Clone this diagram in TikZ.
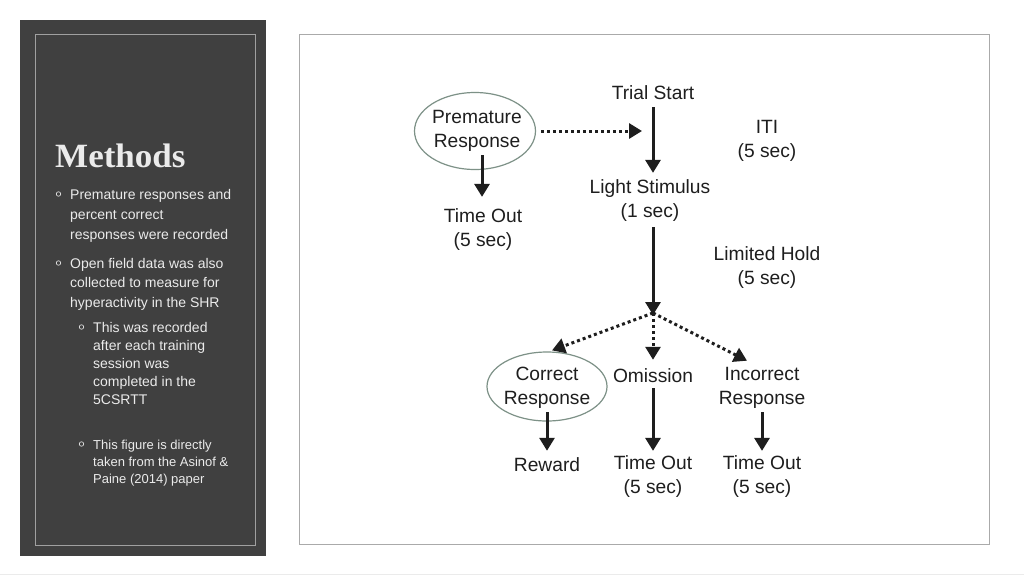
\documentclass[tikz,border=0pt]{standalone}
\usepackage{fontspec}
\newfontfamily\arial{Liberation Sans}
\newfontfamily\methfont{Liberation Serif}
\usetikzlibrary{arrows.meta,shapes.geometric,calc}
\definecolor{panel}{RGB}{64,64,64}
\definecolor{panelframe}{RGB}{160,160,160}
\definecolor{paneltext}{RGB}{235,235,235}
\definecolor{ovalc}{RGB}{125,145,135}
\definecolor{figframe}{RGB}{170,170,170}
\definecolor{ink}{RGB}{30,30,30}
\begin{document}
\begin{tikzpicture}[x=1pt,y=-1pt,
  txt/.style={font=\arial\fontsize{19.2}{24}\selectfont, text=ink, align=center, inner sep=0pt},
  arr/.style={line width=3pt, draw=ink, -{Triangle[length=13pt,width=15pt]}},
  dotarr/.style={arr, dash pattern=on 3pt off 3pt},
  oval/.style={ellipse, draw=ovalc, line width=1.2pt, inner sep=0pt},
  lt/.style={font=\arial\fontsize{14}{20}\selectfont, text=paneltext, anchor=base west, align=left, inner sep=0pt},
  lts/.style={lt, font=\arial\fontsize{14}{18}\selectfont},
  ltt/.style={lt, font=\arial\fontsize{13}{17}\selectfont},
  bul/.style={circle, draw=paneltext, line width=0.6pt, minimum size=4.5pt, inner sep=0pt}
]
\useasboundingbox (0,0) rectangle (1024,576);
\fill[white] (0,0) rectangle (1024,576);
\draw[black!8, line width=1.5pt] (0,574.5) -- (1024,574.5);
% left panel
\fill[panel] (20,20) rectangle (266,556);
\draw[panelframe, line width=0.8pt] (35,34) rectangle (255,545);
\node[anchor=base west, inner sep=0pt, text=paneltext, font=\methfont\bfseries\fontsize{34}{36}\selectfont, xscale=1.03] (meth) at (55,167) {Methods};
% text nodes: base anchor = baseline of last line
\node[bul] (b1) at (58.5,194) {};
\node[lt] (t1) at (70,239) {Premature responses and\\percent correct\\responses were recorded};
\node[bul] (b2) at (58.5,263) {};
\node[lt, font=\arial\fontsize{14}{19.5}\selectfont] (t2) at (70,307) {Open field data was also\\collected to measure for\\hyperactivity in the SHR};
\node[bul] (b3) at (81.5,327) {};
\node[lts] (t3) at (93,404) {This was recorded\\after each training\\session was\\completed in the\\5CSRTT};
\node[bul] (b4) at (81.5,444) {};
\node[ltt] (t4) at (93,483) {This figure is directly\\taken from the Asinof \&\\Paine (2014) paper};
% figure frame
\draw[figframe, line width=1pt] (299,34) rectangle (989,544);
% diagram
\node[txt] (trial) at (653,93) {Trial Start};
\node[txt] (iti) at (767,140.5) {ITI\\(5 sec)};
\node[oval, minimum width=121pt, minimum height=77pt] (premE) at (475,131) {};
\node[txt] (prem) at (477,130.5) {Premature\\Response};
\node[txt] (to1) at (483,230) {Time Out\\(5 sec)};
\node[txt] (light) at (650,201) {Light Stimulus\\(1 sec)};
\node[txt] (lh) at (767,268) {Limited Hold\\(5 sec)};
\coordinate (junc) at (653,315);
\node[oval, minimum width=120pt, minimum height=69pt] (corrE) at (547,386.5) {};
\node[txt] (corr) at (547,387.5) {Correct\\Response};
\node[txt] (omi) at (653,376) {Omission};
\node[txt] (inc) at (762,387.5) {Incorrect\\Response};
\node[txt] (rew) at (547,465) {Reward};
\node[txt] (to2) at (653,477) {Time Out\\(5 sec)};
\node[txt] (to3) at (762,477) {Time Out\\(5 sec)};
% connectors
\draw[arr] ($(trial.south)+(0,7)$) -- ($(trial.south |- light.north)+(0,-7)$);
\draw[arr] ($(trial.south |- light.south)+(0,5)$) -- (junc);
\draw[dotarr] ($(premE.east)+(5,0)$) -- ($(trial.south |- premE.east)+(-11,0)$);
\draw[arr] ($(prem.south)+(5,4)$) -- ($(prem.south |- to1.north)+(5,-12)$);
\draw[dotarr] ($(junc)+(0,-2)$) -- ($(corrE.north)+(5,-1)$);
\draw[dotarr] ($(junc)+(0,-2)$) -- ($(omi.north)+(0,-9)$);
\draw[dotarr] ($(junc)+(0,-2)$) -- ($(inc.north)+(-15,-6)$);
\draw[arr] ($(corr.south)+(0,4)$) -- ($(rew.north)+(0,-7)$);
\draw[arr] ($(omi.south)+(0,5)$) -- ($(to2.north)+(0,-5)$);
\draw[arr] ($(inc.south)+(0,4)$) -- ($(to3.north)+(0,-5)$);
\end{tikzpicture}
\end{document}
